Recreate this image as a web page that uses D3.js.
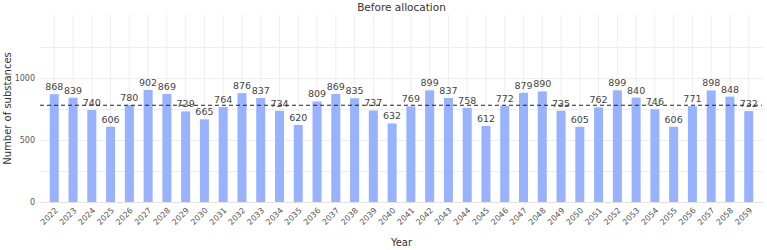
<!DOCTYPE html>
<html>
<head>
<meta charset="utf-8">
<script src="https://cdn.jsdelivr.net/npm/d3@7"></script>
<style>
  body { margin: 0; background: #fff; }
  svg text { font-family: "DejaVu Sans", Verdana, sans-serif; }
</style>
</head>
<body>
<div class="chart"></div>
<script>
// chart data
let years = ["2022","2023","2024","2025","2026","2027","2028","2029","2030","2031",
  "2032","2033","2034","2035","2036","2037","2038","2039","2040","2041",
  "2042","2043","2044","2045","2046","2047","2048","2049","2050","2051",
  "2052","2053","2054","2055","2056","2057","2058","2059"]
let substances = [868, 839, 740, 606, 780, 902, 869, 729, 665, 764,
  876, 837, 734, 620, 809, 869, 835, 737, 632, 769,
  899, 837, 758, 612, 772, 879, 890, 735, 605, 762,
  899, 840, 746, 606, 771, 898, 848, 732]
let yTicks = [0, 500, 1000]
let gridTicks = [0, 250, 500, 750, 1000, 1250]

let w = 767
let h = 250
let margin = { top: 15, right: 4, bottom: 48, left: 40 }

let svg = d3.select(".chart")
  .append("svg")
  .attr("width", w)
  .attr("height", h)

let x = d3.scaleBand()
  .domain(years)
  .range([margin.left, w - margin.right])
  .padding(0.52)

let y = d3.scaleLinear()
  .domain([0, 1505])
  .range([h - margin.bottom, margin.top])

// grid
svg.append("g")
  .selectAll("line.v")
  .data(years)
  .enter()
  .append("line")
  .attr("x1", d => x(d) + x.bandwidth() / 2)
  .attr("x2", d => x(d) + x.bandwidth() / 2)
  .attr("y1", y(0))
  .attr("y2", margin.top)
  .attr("stroke", "#eeeeee")
  .attr("stroke-width", 1)

svg.append("g")
  .selectAll("line.h")
  .data(gridTicks)
  .enter()
  .append("line")
  .attr("x1", margin.left)
  .attr("x2", w - margin.right)
  .attr("y1", d => Math.round(y(d)) + 0.5)
  .attr("y2", d => Math.round(y(d)) + 0.5)
  .attr("stroke", d => d === 0 ? "#e4e4e4" : "#eeeeee")
  .attr("stroke-width", 1)

// bars
svg.append("g")
  .selectAll("rect")
  .data(substances)
  .enter()
  .append("rect")
  .attr("x", (d, i) => x(years[i]))
  .attr("width", x.bandwidth())
  .attr("y", d => y(d))
  .attr("height", d => y(0) - y(d))
  .attr("fill", "#98b2fd")

// value labels
svg.append("g")
  .selectAll("text")
  .data(substances)
  .enter()
  .append("text")
  .attr("x", (d, i) => x(years[i]) + x.bandwidth() / 2)
  .attr("y", d => y(d) - 4)
  .attr("text-anchor", "middle")
  .attr("font-size", "9.5px")
  .attr("fill", "#444")
  .text(d => d)

// mean line
let avg = d3.mean(substances)
svg.append("line")
  .attr("x1", margin.left)
  .attr("x2", w - 5)
  .attr("y1", y(avg))
  .attr("y2", y(avg))
  .attr("stroke", "#222")
  .attr("stroke-width", 1.1)
  .attr("stroke-dasharray", "4,3")

// y axis labels
svg.append("g")
  .selectAll("text")
  .data(yTicks)
  .enter()
  .append("text")
  .attr("x", margin.left - 5)
  .attr("y", d => y(d) + 3)
  .attr("text-anchor", "end")
  .attr("font-size", "8px")
  .attr("fill", "#555")
  .text(d => d)

// x axis labels, rotated
svg.append("g")
  .selectAll("text")
  .data(years)
  .enter()
  .append("text")
  .attr("transform", d => "translate(" + (x(d) + x.bandwidth() / 2 + 4) + "," + (y(0) + 9) + ") rotate(-45)")
  .attr("text-anchor", "end")
  .attr("font-size", "8px")
  .attr("fill", "#555")
  .text(d => d)

// titles
svg.append("text")
  .attr("x", (margin.left + w - margin.right) / 2)
  .attr("y", 11)
  .attr("text-anchor", "middle")
  .attr("font-size", "10.5px")
  .attr("fill", "#333")
  .text("Before allocation")

svg.append("text")
  .attr("x", (margin.left + w - margin.right) / 2)
  .attr("y", 246)
  .attr("text-anchor", "middle")
  .attr("font-size", "10px")
  .attr("fill", "#333")
  .text("Year")

svg.append("text")
  .attr("transform", "translate(11," + ((margin.top + y(0)) / 2) + ") rotate(-90)")
  .attr("text-anchor", "middle")
  .attr("font-size", "10px")
  .attr("fill", "#333")
  .text("Number of substances")
</script>
</body>
</html>
